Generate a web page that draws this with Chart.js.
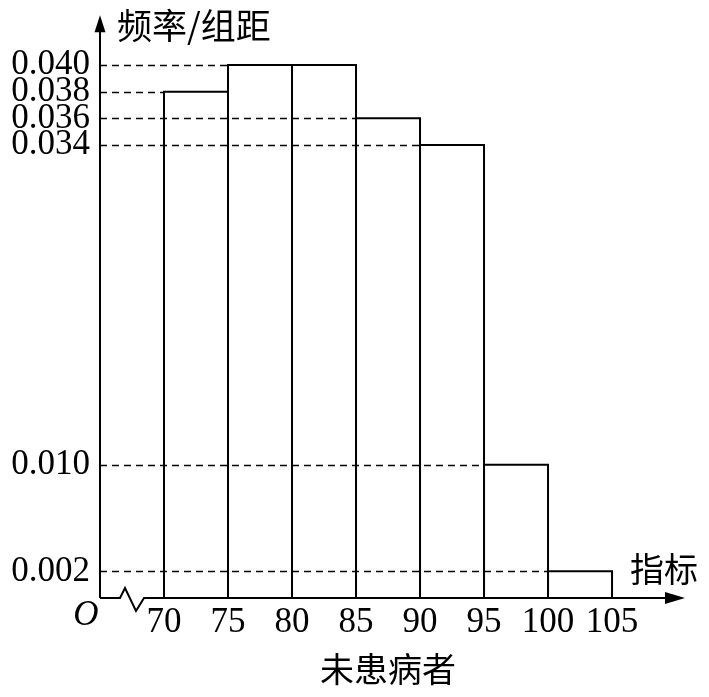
<!DOCTYPE html>
<html>
<head>
<meta charset="utf-8">
<script src="https://cdn.jsdelivr.net/npm/chart.js@4/dist/chart.umd.min.js"></script>
<style>
  html, body { margin: 0; padding: 0; background: #fff; }
  #wrap { width: 709px; height: 697px; position: relative; }
</style>
</head>
<body>
<div id="wrap"><canvas id="chart"></canvas></div>
<script>
// bin edges of the histogram (指标) and frequency/组距 for each bin
const binEdges = [70, 75, 80, 85, 90, 95, 100, 105];
const freqPerWidth = [0.038, 0.040, 0.040, 0.036, 0.034, 0.010, 0.002];
const yTickValues = [0.002, 0.010, 0.034, 0.036, 0.038, 0.040];
const xTickValues = [70, 75, 80, 85, 90, 95, 100, 105];

const yTitle = '频率/组距';
const xTitle = '指标';
const groupLabel = '未患病者';

const CJK = '"Noto Sans CJK SC", "Noto Sans CJK JP", sans-serif';
const SERIF = '"Liberation Serif", "DejaVu Serif", serif';

const barData = freqPerWidth.map((v, i) => ({ x: (binEdges[i] + binEdges[i + 1]) / 2, y: v }));

// draws axes with arrows, the axis break, the dashed guides and the bar outlines
const histPlugin = {
    id: 'histPlugin',
    afterDatasetsDraw(chart) {
        const ctx = chart.ctx;
        const xs = chart.scales.x;
        const ys = chart.scales.y;
        const area = chart.chartArea;
        const meta = chart.getDatasetMeta(0);

        ctx.save();
        ctx.strokeStyle = '#000';
        ctx.fillStyle = '#000';

        // dashed guides from the y axis to the first bar with that height
        ctx.lineWidth = 1.5;
        ctx.setLineDash([7, 5]);
        const done = {};
        freqPerWidth.forEach((v, i) => {
            if (done[v]) return;
            done[v] = true;
            const py = Math.round(ys.getPixelForValue(v)) + 0.5;
            ctx.beginPath();
            ctx.moveTo(area.left, py);
            ctx.lineTo(xs.getPixelForValue(binEdges[i]), py);
            ctx.stroke();
        });
        ctx.setLineDash([]);

        // bar outlines
        ctx.lineWidth = 2;
        meta.data.forEach(el => {
            const l = el.x - el.width / 2;
            const r = el.x + el.width / 2;
            ctx.beginPath();
            ctx.moveTo(l, el.base);
            ctx.lineTo(l, el.y);
            ctx.lineTo(r, el.y);
            ctx.lineTo(r, el.base);
            ctx.stroke();
        });

        // y axis with arrow
        const x0 = area.left;
        const y0 = area.bottom;
        ctx.beginPath();
        ctx.moveTo(x0, y0);
        ctx.lineTo(x0, area.top + 14);
        ctx.stroke();
        ctx.beginPath();
        ctx.moveTo(x0, area.top);
        ctx.lineTo(x0 - 5.5, area.top + 17);
        ctx.lineTo(x0 + 5.5, area.top + 17);
        ctx.closePath();
        ctx.fill();

        // x axis with break and arrow
        ctx.beginPath();
        ctx.moveTo(x0, y0);
        ctx.lineTo(x0 + 20, y0);
        ctx.lineTo(x0 + 25, y0 - 10);
        ctx.lineTo(x0 + 36, y0 + 13);
        ctx.lineTo(x0 + 44, y0);
        ctx.lineTo(area.right - 16, y0);
        ctx.stroke();
        ctx.beginPath();
        ctx.moveTo(area.right, y0);
        ctx.lineTo(area.right - 20, y0 - 6);
        ctx.lineTo(area.right - 20, y0 + 6);
        ctx.closePath();
        ctx.fill();

        // texts
        ctx.textBaseline = 'middle';
        ctx.font = '35px ' + CJK;
        ctx.textAlign = 'left';
        ctx.fillText(yTitle, x0 + 17, 26);
        ctx.font = '34px ' + CJK;
        ctx.fillText(xTitle, 630, 569);
        ctx.textAlign = 'center';
        ctx.fillText(groupLabel, 388, 669);
        ctx.font = 'italic 35px ' + SERIF;
        ctx.fillText('O', 86, 616);

        ctx.restore();
    }
};

const chart = new Chart(document.getElementById('chart'), {
    type: 'bar',
    data: {
        datasets: [{
            data: barData,
            backgroundColor: 'rgba(0,0,0,0)',
            borderWidth: 0,
            barPercentage: 1,
            categoryPercentage: 1
        }]
    },
    options: {
        responsive: true,
        maintainAspectRatio: false,
        animation: false,
        layout: { padding: { top: 9, right: 24, left: 0, bottom: 0 } },
        plugins: {
            legend: { display: false },
            tooltip: { enabled: false },
            title: { display: false }
        },
        scales: {
            x: {
                type: 'linear',
                min: 65,
                max: 110.7,
                offset: false,
                grid: { display: false, offset: false, drawTicks: false },
                border: { display: false },
                afterBuildTicks: s => { s.ticks = xTickValues.map(v => ({ value: v })); },
                afterFit: s => { s.height = 99; },
                ticks: {
                    autoSkip: false,
                    maxRotation: 0,
                    minRotation: 0,
                    padding: 7,
                    color: '#000',
                    font: { family: SERIF, size: 35, lineHeight: 1 },
                    callback: v => String(v)
                }
            },
            y: {
                min: 0,
                max: 0.04374,
                grid: { display: false, drawTicks: false },
                border: { display: false },
                afterBuildTicks: s => { s.ticks = yTickValues.map(v => ({ value: v })); },
                afterFit: s => { s.width = 100; },
                ticks: {
                    autoSkip: false,
                    padding: 10,
                    color: '#000',
                    font: { family: SERIF, size: 35, lineHeight: 0.3 },
                    callback: v => Number(v).toFixed(3)
                }
            }
        }
    },
    plugins: [histPlugin]
});
</script>
</body>
</html>
